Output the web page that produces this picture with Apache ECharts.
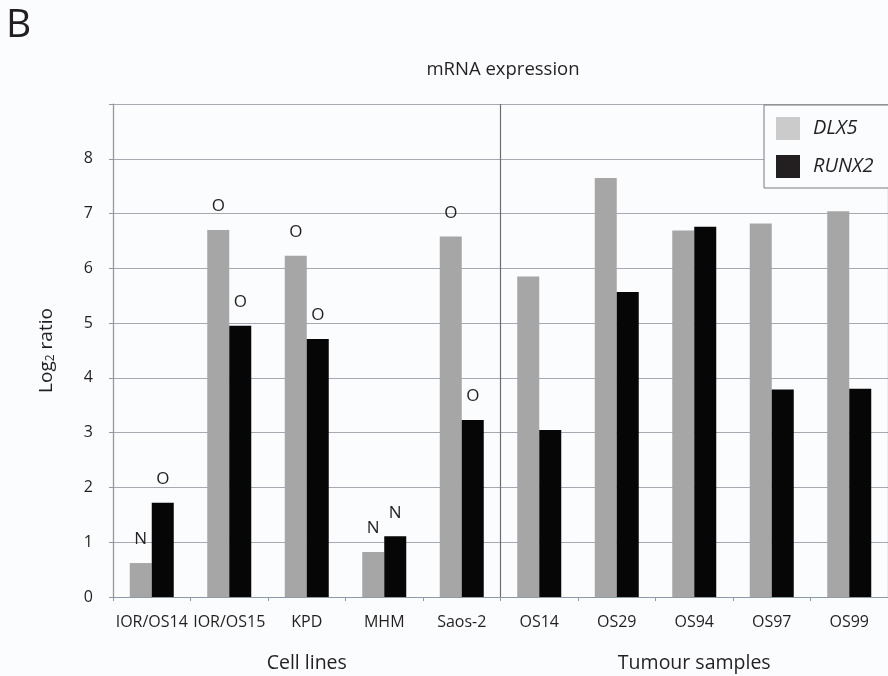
<!DOCTYPE html>
<html>
<head>
<meta charset="utf-8">
<script src="https://cdn.jsdelivr.net/npm/echarts@6/dist/echarts.min.js"></script>
<style>
html,body{margin:0;padding:0;background:#fbfcfe;}
#chart{width:888px;height:676px;}
</style>
</head>
<body>
<div id="chart"></div>
<script>
var categories = ['IOR/OS14','IOR/OS15','KPD','MHM','Saos-2','OS14','OS29','OS94','OS97','OS99'];
var groups = ['Cell lines','Tumour samples'];
var dlx5 = [0.62, 6.70, 6.23, 0.82, 6.58, 5.85, 7.65, 6.69, 6.82, 7.04];
var runx2 = [1.72, 4.95, 4.71, 1.11, 3.23, 3.05, 5.57, 6.76, 3.79, 3.80];
var dlx5Marks = ['N','O','O','N','O','','','','',''];
var runx2Marks = ['O','O','O','N','O','','','','',''];
var yTicks = ['0','1','2','3','4','5','6','7','8',''];

var FONT = 'Open Sans';
var TXT = '#231f20';

function withLabels(values, marks){
  return values.map(function(v,i){
    return {value:v, label:{show: marks[i] !== '', formatter: marks[i]}};
  });
}

var chart = echarts.init(document.getElementById('chart'), null, {renderer:'canvas'});
chart.setOption({
  backgroundColor:'#fbfcfe',
  animation:false,
  textStyle:{fontFamily:FONT, color:TXT},
  title:[
    {text:'B', left:1, top:1, textStyle:{fontFamily:FONT, fontSize:39, fontWeight:'normal', color:TXT}},
    {text:'mRNA expression', left:498, top:55, textAlign:'center', textStyle:{fontFamily:FONT, fontSize:18.5, fontWeight:'normal', color:TXT}}
  ],
  legend:{
    orient:'vertical', left:764, top:105,
    padding:[12,40,10,12],
    itemWidth:24, itemHeight:23, itemGap:15,
    icon:'rect',
    backgroundColor:'#fbfcfe',
    borderColor:'#7a7a7a', borderWidth:1,
    textStyle:{fontFamily:FONT, fontSize:20, fontStyle:'italic', color:TXT, padding:[0,0,0,8]},
    data:[
      {name:'DLX5', itemStyle:{color:'#cbcbcb'}},
      {name:'RUNX2', itemStyle:{color:'#231f20'}}
    ]
  },
  grid:{left:113, top:104, width:780, height:493, containLabel:false},
  xAxis:[
    {
      type:'category', data:categories, position:'bottom',
      axisLine:{lineStyle:{color:'#8c9aa5', width:1}},
      axisTick:{show:true, length:4, lineStyle:{color:'#8c9aa5'}},
      axisLabel:{fontFamily:FONT, fontSize:16, color:TXT, margin:17, interval:0}
    },
    {
      type:'category', data:groups, position:'bottom', offset:0,
      axisLine:{show:false}, axisTick:{show:false},
      axisLabel:{fontFamily:FONT, fontSize:19.5, color:TXT, margin:56},
      splitLine:{show:true, interval:0, lineStyle:{color:'#6e6e6e', width:1.2}}
    }
  ],
  yAxis:{
    type:'value', min:0, max:9, interval:1,
    name:'Log{sub|2} ratio', nameLocation:'middle', nameGap:56, nameRotate:90,
    nameTextStyle:{fontFamily:FONT, fontSize:19, color:TXT, rich:{sub:{fontFamily:FONT, fontSize:12, color:TXT, verticalAlign:'bottom', padding:[9,0,0,0]}}},
    axisLine:{show:true, lineStyle:{color:'#8c9aa5'}},
    axisTick:{show:true, length:4, lineStyle:{color:'#8c9aa5'}},
    axisLabel:{fontFamily:FONT, fontSize:16, color:TXT, margin:20, formatter:function(v){return yTicks[Math.round(v)];}},
    splitLine:{show:true, lineStyle:{color:'#a7a9b2', width:1}}
  },
  series:[
    {name:'DLX5', type:'bar', xAxisIndex:0, data:withLabels(dlx5, dlx5Marks), barWidth:22, barGap:'0%',
     itemStyle:{color:'#a6a6a6'},
     label:{position:'top', distance:15, fontFamily:FONT, fontSize:17, color:TXT}},
    {name:'RUNX2', type:'bar', xAxisIndex:0, data:withLabels(runx2, runx2Marks), barWidth:22, barGap:'0%',
     itemStyle:{color:'#060606'},
     label:{position:'top', distance:15, fontFamily:FONT, fontSize:17, color:TXT}}
  ]
});
</script>
</body>
</html>
